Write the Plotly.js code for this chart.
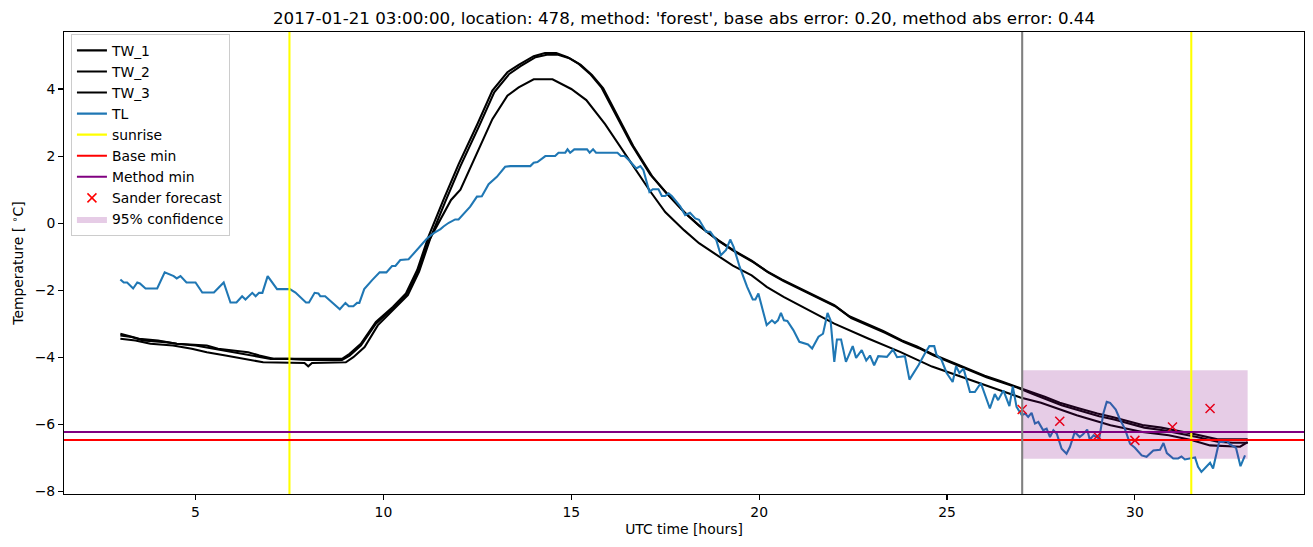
<!DOCTYPE html>
<html>
<head>
<meta charset="utf-8">
<script src="https://cdn.plot.ly/plotly-3.0.1.min.js"></script>
<style>html,body{margin:0;padding:0;background:#fff}#chart{width:1313px;height:547px}</style>
</head>
<body>
<div id="chart"></div>
<script>
// ---- data ----
const tl_x = [3.0,3.09,3.18,3.34,3.45,3.52,3.67,3.98,4.18,4.3,4.42,4.5,4.6,4.76,5.0,5.18,5.49,5.75,5.93,6.09,6.24,6.33,6.51,6.6,6.69,6.78,6.92,7.17,7.51,7.66,7.94,8.02,8.17,8.27,8.32,8.45,8.55,8.84,8.99,9.08,9.2,9.3,9.36,9.49,9.7,9.9,10.08,10.23,10.32,10.45,10.67,11.16,11.34,11.52,11.6,11.74,11.91,12.0,12.31,12.49,12.62,12.8,13.02,13.24,13.38,13.91,14.0,14.1,14.31,14.57,14.66,14.84,14.9,14.97,15.08,15.42,15.49,15.58,15.66,16.23,16.32,16.42,16.55,16.73,16.84,16.92,17.08,17.17,17.32,17.41,17.5,17.59,17.68,17.81,17.9,18.03,18.16,18.3,18.4,18.59,18.7,18.86,18.98,19.12,19.23,19.32,19.48,19.68,19.83,19.9,19.98,20.2,20.34,20.42,20.5,20.58,20.66,20.75,20.91,21.07,21.2,21.3,21.41,21.58,21.7,21.82,21.9,22.0,22.07,22.18,22.31,22.49,22.58,22.73,22.85,22.95,23.06,23.17,23.4,23.56,23.67,23.88,24.0,24.24,24.41,24.53,24.66,24.72,24.85,24.99,25.15,25.24,25.33,25.44,25.61,25.74,25.9,26.14,26.27,26.36,26.5,26.66,26.75,26.85,26.99,27.08,27.16,27.25,27.34,27.43,27.56,27.65,27.74,27.83,27.92,28.05,28.18,28.27,28.4,28.53,28.62,28.73,28.8,28.9,29.05,29.16,29.25,29.34,29.49,29.6,29.73,29.87,30.0,30.18,30.31,30.49,30.67,30.76,30.85,31.02,31.15,31.24,31.33,31.51,31.6,31.68,31.77,31.9,32.0,32.08,32.24,32.35,32.44,32.53,32.69,32.81,32.93];
const tl_y = [-1.68,-1.77,-1.77,-1.95,-1.77,-1.8,-1.95,-1.95,-1.47,-1.52,-1.58,-1.65,-1.58,-1.77,-1.77,-2.07,-2.07,-1.77,-2.37,-2.37,-2.18,-2.28,-2.08,-2.18,-2.08,-2.08,-1.58,-1.97,-1.97,-2.07,-2.37,-2.37,-2.08,-2.1,-2.18,-2.18,-2.28,-2.57,-2.38,-2.48,-2.48,-2.38,-2.38,-1.97,-1.7,-1.47,-1.47,-1.28,-1.28,-1.1,-1.08,-0.46,-0.3,-0.18,-0.1,0.01,0.11,0.11,0.49,0.79,0.8,1.16,1.38,1.68,1.7,1.7,1.8,1.82,2.0,2.0,2.1,2.1,2.2,2.1,2.2,2.2,2.1,2.2,2.1,2.1,2.0,2.0,1.86,1.63,1.7,1.58,0.93,1.01,1.01,0.81,0.81,0.89,0.8,0.61,0.5,0.24,0.31,0.14,0.1,-0.26,-0.26,-0.51,-0.96,-0.8,-0.49,-0.71,-1.3,-1.9,-2.28,-2.28,-2.1,-3.04,-2.9,-2.98,-2.9,-2.68,-2.9,-2.92,-3.19,-3.54,-3.59,-3.62,-3.74,-3.39,-3.3,-2.68,-2.9,-4.14,-3.47,-3.47,-4.14,-3.67,-4.02,-3.79,-4.1,-3.95,-4.24,-3.97,-3.99,-3.77,-4.0,-3.97,-4.67,-4.24,-3.89,-3.67,-3.67,-3.93,-4.07,-4.47,-4.74,-4.27,-4.47,-4.34,-5.04,-5.04,-4.77,-5.53,-5.1,-5.28,-4.99,-5.46,-4.87,-5.48,-5.73,-5.68,-5.78,-5.66,-5.98,-5.93,-6.18,-6.13,-6.38,-6.18,-6.28,-6.73,-6.88,-6.68,-6.23,-6.38,-6.3,-6.16,-6.46,-6.33,-6.43,-5.68,-5.33,-5.36,-5.56,-5.85,-6.13,-6.58,-6.7,-6.93,-6.97,-6.78,-6.76,-6.56,-6.86,-7.02,-7.02,-6.96,-7.05,-7.02,-6.99,-7.27,-7.42,-7.27,-7.15,-7.32,-6.53,-6.53,-6.48,-6.6,-6.7,-7.25,-6.93];

const tw1_x = [3,3.3,3.6,4.2,4.5,5.3,5.6,6.0,6.4,6.7,7.1,8.9,9.1,9.4,9.8,10.25,10.6,10.9,11.2,11.6,12.0,12.5,12.9,13.3,13.6,14.0,14.3,14.6,14.9,15.2,15.5,15.8,16.2,16.6,17.1,17.5,18.0,18.4,18.9,19.3,19.8,20.2,20.6,21.1,21.5,22.0,22.4,22.9,23.3,23.8,24.2,24.6,25.1,25.5,26.0,26.4,26.8,27.2,27.6,28.0,28.5,29.0,29.4,29.8,30.2,30.7,31.1,31.6,32.2,32.6,33.0];
const tw1_y = [-3.35,-3.4,-3.5,-3.55,-3.6,-3.65,-3.75,-3.8,-3.85,-3.95,-4.05,-4.05,-3.9,-3.6,-2.95,-2.5,-2.1,-1.4,-0.4,0.7,1.75,2.95,3.95,4.5,4.72,4.98,5.07,5.07,4.95,4.75,4.45,4.05,3.2,2.35,1.45,0.93,0.33,-0.08,-0.5,-0.8,-1.12,-1.43,-1.68,-1.95,-2.18,-2.45,-2.78,-3.02,-3.22,-3.5,-3.68,-3.9,-4.13,-4.33,-4.55,-4.7,-4.85,-5.02,-5.18,-5.36,-5.52,-5.68,-5.78,-5.9,-6.02,-6.1,-6.18,-6.3,-6.45,-6.45,-6.45];

const tw2_x = [3,3.4,3.8,4.4,4.9,5.3,5.8,6.3,6.8,7.9,8.0,8.1,9.0,9.2,9.5,9.85,10.3,10.65,10.95,11.25,11.65,12.05,12.55,12.95,13.35,13.65,14.05,14.35,14.65,14.95,15.25,15.55,15.85,16.25,16.65,17.15,17.55,18.05,18.45,18.95,19.35,19.85,20.25,20.65,21.15,21.55,22.05,22.45,22.95,23.35,23.85,24.25,24.65,25.15,25.55,26.05,26.45,26.85,27.25,27.65,28.05,28.55,29.05,29.45,29.85,30.25,30.75,31.15,31.65,32.2,32.6,33.0];
const tw2_y = [-3.45,-3.5,-3.6,-3.65,-3.75,-3.85,-3.95,-4.05,-4.15,-4.17,-4.27,-4.17,-4.15,-4.0,-3.7,-3.05,-2.55,-2.15,-1.45,-0.45,0.65,1.7,2.9,3.9,4.45,4.68,4.95,5.02,5.02,4.92,4.72,4.42,4.02,3.15,2.3,1.4,0.88,0.28,-0.12,-0.55,-0.85,-1.17,-1.48,-1.73,-2.0,-2.23,-2.5,-2.83,-3.07,-3.27,-3.55,-3.73,-3.95,-4.18,-4.38,-4.6,-4.75,-4.9,-5.08,-5.25,-5.43,-5.6,-5.76,-5.86,-5.98,-6.1,-6.18,-6.26,-6.38,-6.52,-6.55,-6.55];

const tw3_x = [3,3.5,4,4.5,5,5.5,6,6.5,7,7.5,8,8.5,8.9,9.1,9.4,9.8,10.25,10.6,10.9,11.2,11.8,12.05,12.5,12.9,13.3,13.6,14.0,14.5,15.0,15.4,15.9,16.3,16.7,17.1,17.5,18.0,18.4,18.9,19.3,19.8,20.2,20.65,21.1,21.5,22.0,22.9,23.75,24.6,25.5,26.4,26.95,27.5,28.45,29.35,30.2,30.9,31.5,32.0,32.8,33.0];
const tw3_y = [-3.3,-3.45,-3.5,-3.6,-3.65,-3.75,-3.85,-3.95,-4.05,-4.05,-4.08,-4.08,-4.08,-3.95,-3.65,-3.0,-2.55,-2.15,-1.5,-0.55,0.69,1.0,2.1,3.1,3.8,4.05,4.29,4.29,4.0,3.67,2.95,2.28,1.65,0.95,0.33,-0.21,-0.6,-0.96,-1.27,-1.56,-1.9,-2.2,-2.47,-2.72,-3.0,-3.44,-3.84,-4.28,-4.64,-4.99,-5.2,-5.36,-5.73,-6.03,-6.23,-6.33,-6.47,-6.63,-6.67,-6.53];

const sunrise_x = [7.5, 31.5];
const forecast_start = 27;
const base_min = -6.47;
const method_min = -6.23;
const forecast_x = [27, 28, 29, 30, 31, 32];
const forecast_y = [-5.56, -5.91, -6.35, -6.48, -6.08, -5.53];
const conf_x = [27, 33];
const conf_lo = -7.03;
const conf_hi = -4.39;
const x_ticks = [5, 10, 15, 20, 25, 30];
const y_ticks = [-8, -6, -4, -2, 0, 2, 4];

// ---- plot ----
const FONT = "DejaVu Sans, Liberation Sans, sans-serif";
const lw = 2.08;
const traces = [
  {x: tw1_x, y: tw1_y, name: 'TW_1', mode: 'lines', line: {color: 'black', width: lw}},
  {x: tw2_x, y: tw2_y, name: 'TW_2', mode: 'lines', line: {color: 'black', width: lw}},
  {x: tw3_x, y: tw3_y, name: 'TW_3', mode: 'lines', line: {color: 'black', width: lw}},
  {x: tl_x, y: tl_y, name: 'TL', mode: 'lines', line: {color: '#1f77b4', width: lw}},
  {x: [null], y: [null], name: 'sunrise', mode: 'lines', line: {color: '#ffff00', width: lw}},
  {x: [null], y: [null], name: 'Base min', mode: 'lines', line: {color: 'red', width: lw}},
  {x: [null], y: [null], name: 'Method min', mode: 'lines', line: {color: 'purple', width: lw}},
  {x: forecast_x, y: forecast_y, name: 'Sander forecast', mode: 'markers',
   marker: {symbol: 'x-thin', size: 9, color: 'red', line: {color: 'red', width: 1.5}}},
  {x: [conf_x[0], conf_x[1], conf_x[1], conf_x[0]], y: [conf_lo, conf_lo, conf_hi, conf_hi],
   name: '95% confidence', mode: 'lines', fill: 'toself', fillcolor: 'rgba(128,0,128,0.2)',
   line: {width: 0, color: 'rgba(128,0,128,0)'}, hoverinfo: 'skip'}
];

const shapes = [];
sunrise_x.forEach(v => shapes.push({type: 'line', xref: 'x', yref: 'paper', x0: v, x1: v, y0: 0, y1: 1, line: {color: '#ffff00', width: lw}}));
shapes.push({type: 'line', xref: 'paper', yref: 'y', x0: 0, x1: 1, y0: base_min, y1: base_min, line: {color: 'red', width: lw}});
shapes.push({type: 'line', xref: 'paper', yref: 'y', x0: 0, x1: 1, y0: method_min, y1: method_min, line: {color: 'purple', width: lw}});
shapes.push({type: 'line', xref: 'x', yref: 'paper', x0: forecast_start, x1: forecast_start, y0: 0, y1: 1, line: {color: 'gray', width: lw}});

const axisCommon = {
  showgrid: false, zeroline: false, showline: true, mirror: true,
  linecolor: 'black', linewidth: 1.1, ticks: 'outside', ticklen: 4.9, tickwidth: 1.1,
  tickcolor: 'black', tickfont: {family: FONT, size: 13.9, color: 'black'}
};

const layout = {
  width: 1313, height: 547,
  margin: {l: 64, r: 9, t: 32, b: 53},
  paper_bgcolor: 'white', plot_bgcolor: 'white',
  font: {family: FONT, color: 'black'},
  title: {text: "2017-01-21 03:00:00, location: 478, method: 'forest', base abs error: 0.20, method abs error: 0.44",
          font: {family: FONT, size: 16.7, color: 'black'}, x: 0.5, xref: 'paper', y: 1 - 18/547, yref: 'container', yanchor: 'middle'},
  xaxis: Object.assign({}, axisCommon, {range: [1.5, 34.5], tickvals: x_ticks,
          title: {text: 'UTC time [hours]', font: {family: FONT, size: 13.9, color: 'black'}, standoff: 5}}),
  yaxis: Object.assign({}, axisCommon, {range: [-8.08, 5.70], tickvals: y_ticks,
          title: {text: 'Temperature [ <sup>∘</sup>C]', font: {family: FONT, size: 13.9, color: 'black'}, standoff: 7}}),
  legend: {x: 0.0056, y: 0.996, xanchor: 'left', yanchor: 'top', bgcolor: 'rgba(255,255,255,0.8)',
           bordercolor: '#cccccc', borderwidth: 1, font: {family: FONT, size: 13.9, color: 'black'},
           tracegroupgap: 0},
  showlegend: true,
  shapes: shapes
};

Plotly.newPlot('chart', traces, layout, {staticPlot: true, displayModeBar: false});
</script>
</body>
</html>
